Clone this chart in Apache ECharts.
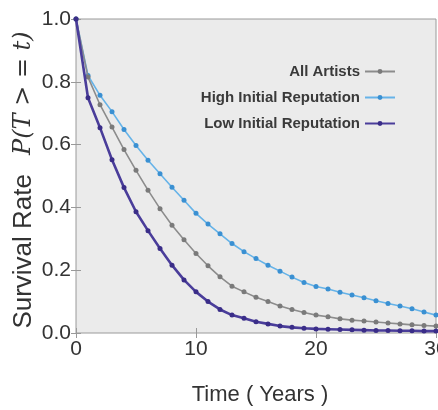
<!DOCTYPE html>
<html>
<head>
<meta charset="utf-8">
<script src="https://cdn.jsdelivr.net/npm/echarts@6/dist/echarts.min.js"></script>
<style>
html,body{margin:0;padding:0;background:#fff;}
#c{width:438px;height:410px;}
</style>
</head>
<body>
<div id="c"></div>
<script>
const years = [0,1,2,3,4,5,6,7,8,9,10,11,12,13,14,15,16,17,18,19,20,21,22,23,24,25,26,27,28,29,30];
const allArtists = [1.0,0.815,0.727,0.656,0.584,0.518,0.455,0.396,0.343,0.297,0.253,0.214,0.179,0.149,0.131,0.114,0.100,0.086,0.075,0.065,0.057,0.052,0.045,0.041,0.038,0.035,0.032,0.029,0.026,0.024,0.022];
const highRep = [1.0,0.82,0.757,0.705,0.648,0.597,0.550,0.507,0.464,0.423,0.381,0.347,0.316,0.285,0.259,0.237,0.216,0.197,0.178,0.161,0.148,0.140,0.130,0.121,0.112,0.103,0.094,0.086,0.077,0.067,0.057];
const lowRep = [1.0,0.749,0.654,0.552,0.463,0.386,0.326,0.269,0.216,0.169,0.131,0.100,0.075,0.057,0.047,0.036,0.029,0.022,0.018,0.015,0.013,0.012,0.011,0.010,0.009,0.008,0.008,0.007,0.007,0.006,0.006];
const seriesNames = ['All Artists','High Initial Reputation','Low Initial Reputation'];
const xTicks = [0,10,20,30];
const yTicks = [0.0,0.2,0.4,0.6,0.8,1.0];

const pairs = arr => years.map((t,i)=>[t,arr[i]]);
const font = '"Liberation Sans", Arial, sans-serif';
const chart = echarts.init(document.getElementById('c'), null, {renderer:'canvas'});
const tickStyle = {show:true, inside:true, length:5, lineStyle:{color:'#999', width:1}};
chart.setOption({
  animation:false,
  backgroundColor:'#fff',
  grid:{left:76, right:2, top:19, bottom:77, containLabel:false, outerBoundsMode:'none',
        show:true, backgroundColor:'#ebebeb', borderColor:'#9a9a9a', borderWidth:1},
  legend:{
    orient:'vertical', right:37, top:59, align:'right', itemGap:11, itemWidth:30, itemHeight:6,
    textStyle:{fontFamily:font, fontSize:15, fontWeight:'bold', color:'#3a3a3a'},
    data:seriesNames
  },
  xAxis:[{
    type:'value', min:xTicks[0], max:xTicks[xTicks.length-1], interval:10,
    axisLine:{show:false}, axisTick:tickStyle, splitLine:{show:false},
    axisLabel:{fontFamily:font, fontSize:21, color:'#333', margin:6},
    name:'Time ( Years )', nameLocation:'middle', nameGap:51, nameMoveOverlap:false,
    nameTextStyle:{fontFamily:font, fontSize:22, color:'#333', padding:[0,0,0,8]}
  },{
    type:'value', position:'top', min:0, max:30, interval:10,
    axisLine:{show:false}, axisTick:tickStyle, axisLabel:{show:false}, splitLine:{show:false}
  }],
  yAxis:[{
    type:'value', min:yTicks[0], max:yTicks[yTicks.length-1], interval:0.2,
    axisLine:{show:false}, axisTick:tickStyle, splitLine:{show:false},
    axisLabel:{fontFamily:font, fontSize:21, color:'#333', margin:5, formatter:v=>v.toFixed(1)},
    name:'{s|Survival Rate}{g|}{m|P(T > = t)}', nameLocation:'middle', nameGap:39, nameRotate:90,
    nameMoveOverlap:false,
    nameTextStyle:{fontFamily:font, fontSize:26, color:'#333', padding:[0,8,0,0],
      rich:{
        s:{fontFamily:font, fontSize:26, color:'#333'},
        g:{width:19},
        m:{fontFamily:'"DejaVu Serif", "Liberation Serif", serif', fontStyle:'italic', fontSize:24, color:'#333'}
      }}
  },{
    type:'value', position:'right', min:0, max:1, interval:0.2,
    axisLine:{show:false}, axisTick:tickStyle, axisLabel:{show:false}, splitLine:{show:false}
  }],
  series:[
    {name:seriesNames[0], type:'line', data:pairs(allArtists), symbol:'circle', symbolSize:5,
     lineStyle:{color:'#8c8c8c', width:1.6}, itemStyle:{color:'#7a7a7a'}, z:3},
    {name:seriesNames[1], type:'line', data:pairs(highRep), symbol:'circle', symbolSize:5,
     lineStyle:{color:'#66b3e8', width:1.6}, itemStyle:{color:'#3a90d2'}, z:2},
    {name:seriesNames[2], type:'line', data:pairs(lowRep), symbol:'circle', symbolSize:5,
     lineStyle:{color:'#4a3d9a', width:2.6}, itemStyle:{color:'#3a2d88'}, z:4}
  ]
});
</script>
</body>
</html>
